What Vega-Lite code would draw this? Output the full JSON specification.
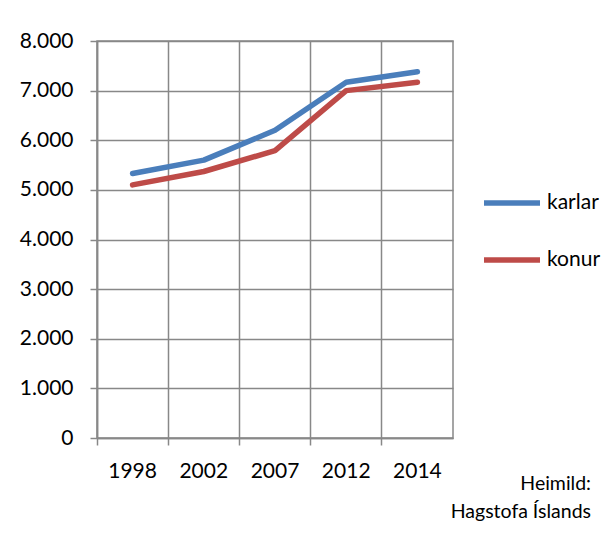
{
  "$schema": "https://vega.github.io/schema/vega-lite/v6.json",
  "width": 356,
  "height": 397,
  "autosize": {"type": "none"},
  "padding": {"left": 97, "top": 41, "right": 155, "bottom": 97},
  "background": "white",
  "config": {
    "locale": {"number": {"decimal": ",", "thousands": ".", "grouping": [3], "currency": ["", " kr."]}},
    "font": "Lato",
    "view": {"stroke": "#888888", "strokeWidth": 1.5}
  },
  "title": {
    "text": ["Heimild:", "Hagstofa Íslands"],
    "orient": "bottom",
    "anchor": "end",
    "frame": "group",
    "align": "right",
    "dx": 138,
    "offset": -6,
    "fontSize": 19.5,
    "fontWeight": "normal",
    "lineHeight": 28,
    "color": "#000000",
    "font": "Lato"
  },
  "data": {
    "values": [
      {"ar": "1998", "kyn": "karlar", "fjoldi": 5330},
      {"ar": "2002", "kyn": "karlar", "fjoldi": 5600},
      {"ar": "2007", "kyn": "karlar", "fjoldi": 6200},
      {"ar": "2012", "kyn": "karlar", "fjoldi": 7170},
      {"ar": "2014", "kyn": "karlar", "fjoldi": 7380},
      {"ar": "1998", "kyn": "konur", "fjoldi": 5100},
      {"ar": "2002", "kyn": "konur", "fjoldi": 5370},
      {"ar": "2007", "kyn": "konur", "fjoldi": 5790},
      {"ar": "2012", "kyn": "konur", "fjoldi": 7000},
      {"ar": "2014", "kyn": "konur", "fjoldi": 7170}
    ]
  },
  "mark": {"type": "line", "strokeWidth": 5.5, "strokeCap": "round", "strokeJoin": "round"},
  "encoding": {
    "x": {
      "field": "ar",
      "type": "ordinal",
      "scale": {"type": "band", "paddingInner": 0, "paddingOuter": 0},
      "axis": {
        "title": null,
        "bandPosition": 0,
        "labelAngle": 0,
        "labelFontSize": 21,
        "labelColor": "#000000",
        "labelPadding": 15,
        "tickSize": 7,
        "tickColor": "#888888",
        "tickWidth": 1.5,
        "domainColor": "#888888",
        "domainWidth": 1.5,
        "grid": true,
        "gridColor": "#888888",
        "gridWidth": 1.5,
        "gridOpacity": 1
      }
    },
    "y": {
      "field": "fjoldi",
      "type": "quantitative",
      "scale": {"domain": [0, 8000]},
      "axis": {
        "title": null,
        "values": [0, 1000, 2000, 3000, 4000, 5000, 6000, 7000, 8000],
        "format": ",d",
        "labelFontSize": 21,
        "labelColor": "#000000",
        "labelPadding": 17,
        "tickSize": 7,
        "tickColor": "#888888",
        "tickWidth": 1.5,
        "domainColor": "#888888",
        "domainWidth": 1.5,
        "grid": true,
        "gridColor": "#888888",
        "gridWidth": 1.5,
        "gridOpacity": 1
      }
    },
    "color": {
      "field": "kyn",
      "type": "nominal",
      "scale": {"domain": ["karlar", "konur"], "range": ["#4A7EBB", "#BE4B48"]},
      "legend": {
        "title": null,
        "orient": "none",
        "legendX": 384,
        "legendY": 131,
        "symbolType": "stroke",
        "symbolSize": 3136,
        "symbolStrokeWidth": 5.5,
        "labelFontSize": 21,
        "labelColor": "#000000",
        "labelOffset": 4,
        "rowPadding": 15
      }
    }
  }
}
